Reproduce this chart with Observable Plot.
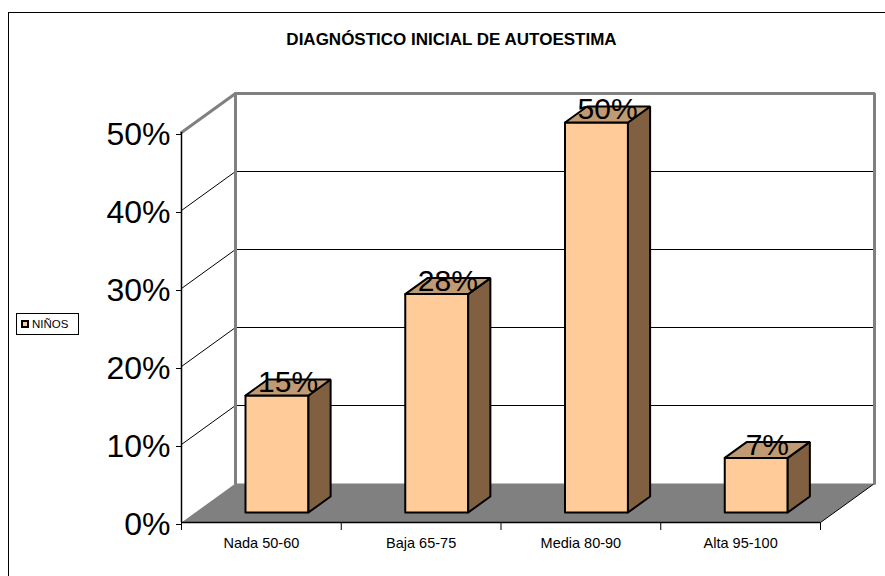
<!DOCTYPE html>
<html>
<head>
<meta charset="utf-8">
<script src="https://cdn.jsdelivr.net/npm/d3@7"></script>
<script src="https://cdn.jsdelivr.net/npm/@observablehq/plot@0.6"></script>
<style>
  html, body { margin: 0; padding: 0; background: #fff; overflow: hidden; }
  #wrap { position: relative; width: 885px; height: 576px; font-family: Arial, "Liberation Sans", sans-serif; }
  #border { position: absolute; left: 8px; top: 12px; width: 900px; height: 600px; border: 1px solid #000; box-sizing: border-box; }
  #title { position: absolute; left: 0; width: 903px; top: 31px; line-height: 17px; font-size: 17px; font-weight: bold; text-align: center; color: #000; }
  #legend { position: absolute; left: 16px; top: 313px; width: 63px; height: 22px; border: 1px solid #000; box-sizing: border-box; background: #fff; }
  #legend .sw { position: absolute; left: 4px; top: 6px; width: 4px; height: 4px; border: 2px solid #000; background: #FFCC99; }
  #legend .lb { position: absolute; left: 15px; top: 3px; font-size: 11.5px; line-height: 14px; }
  svg { position: absolute; left: 0; top: 0; }
</style>
</head>
<body>
<div id="wrap">
  <div id="border"></div>
  <div id="chart"></div>
  <div id="title"></div>
  <div id="legend"><div class="sw"></div><div class="lb"></div></div>
</div>
<script>
const title = "DIAGNÓSTICO INICIAL DE AUTOESTIMA";
const seriesName = "NIÑOS";
const categories = ["Nada 50-60", "Baja 65-75", "Media 80-90", "Alta 95-100"];
const values = [15, 28, 50, 7];
const yTicks = [0, 10, 20, 30, 40, 50];

document.getElementById("title").textContent = title;
document.querySelector("#legend .lb").textContent = seriesName;

// 3D depth (layout): full depth offset in data units
const DX = 0.338, DY = 5.0;
const n = categories.length;
const yMax = yTicks[yTicks.length - 1];
const proj = (x, y, z) => ({x: x + DX * z, y: y + DY * z});

// floor polygon
const floor = [[0,0,0],[n,0,0],[n,0,1],[0,0,1]].map(([x,y,z]) => ({...proj(x,y,z), id: "floor"}));
const floorEdge = [[n,0,0],[n,0,1]].map(([x,y,z]) => ({...proj(x,y,z), id: "fe"}));

// gridlines
const grid = [];
yTicks.slice(1, -1).forEach(t => {
  [[0,t,0],[0,t,1],[n,t,1]].forEach(([x,y,z]) => grid.push({...proj(x,y,z), id: "g" + t}));
});
const wallEdges = [];
[[0,yMax,0],[0,yMax,1],[n,yMax,1],[n,0,1]].forEach(([x,y,z]) => wallEdges.push({...proj(x,y,z), id: "top"}));
[[0,yMax,1],[0,0,1]].forEach(([x,y,z]) => wallEdges.push({...proj(x,y,z), id: "left"}));

// bars
const a = 0.314, w = 0.394, z0 = 0.2564, z1 = 0.667;
const fronts = [], sides = [], tops = [], labels = [];
values.forEach((v, i) => {
  const xl = i + a, xr = i + a + w;
  [[xl,0,z0],[xr,0,z0],[xr,v,z0],[xl,v,z0],[xl,0,z0]].forEach(([x,y,z]) => fronts.push({...proj(x,y,z), id: i}));
  [[xr,0,z0],[xr,v,z0],[xr,v,z1],[xr,0,z1],[xr,0,z0]].forEach(([x,y,z]) => sides.push({...proj(x,y,z), id: i}));
  [[xl,v,z0],[xr,v,z0],[xr,v,z1],[xl,v,z1],[xl,v,z0]].forEach(([x,y,z]) => tops.push({...proj(x,y,z), id: i}));
  labels.push({...proj(i + a + w / 2, v, (z0 + z1) / 2), text: v + "%"});
});

const chart = Plot.plot({
  width: 885,
  height: 576,
  marginLeft: 181,
  marginRight: 65,
  marginTop: 132,
  marginBottom: 54,
  style: {fontFamily: 'Arial, "Liberation Sans", sans-serif', background: "transparent", overflow: "visible"},
  x: {domain: [0, n]},
  y: {domain: [0, yMax]},
  marks: [
    Plot.line(floor, {x: "x", y: "y", z: "id", fill: "#808080", stroke: "none"}),
    Plot.line(floorEdge, {x: "x", y: "y", z: "id", stroke: "#000", strokeWidth: 1}),
    Plot.line(grid, {x: "x", y: "y", z: "id", stroke: "#000", strokeWidth: 1}),
    Plot.line(wallEdges, {x: "x", y: "y", z: "id", stroke: "#808080", strokeWidth: 3, strokeLinejoin: "miter"}),
    Plot.ruleX([0], {y1: 0, y2: yMax, stroke: "#000", strokeWidth: 1.5}),
    Plot.ruleY([0], {x1: 0, x2: n, stroke: "#000", strokeWidth: 1.5}),
    Plot.axisY({ticks: yTicks, tickFormat: d => d + "%", tickSize: 5, tickPadding: 6, fontSize: 32, label: null, stroke: "#000", color: "#000", textStroke: "none", dy: 2}),
    Plot.axisX({ticks: d3.range(n + 1), tickFormat: () => "", tickSize: 8, label: null}),
    Plot.axisX({ticks: d3.range(n).map(i => i + 0.5), tickFormat: d => categories[Math.floor(d)], tickSize: 0, tickPadding: 15, fontSize: 14.5, label: null, color: "#000"}),
    Plot.line(fronts, {x: "x", y: "y", z: "id", fill: "#FFCC99", stroke: "#000", strokeWidth: 2, strokeLinejoin: "miter"}),
    Plot.line(sides, {x: "x", y: "y", z: "id", fill: "#806040", stroke: "#000", strokeWidth: 2, strokeLinejoin: "miter"}),
    Plot.line(tops, {x: "x", y: "y", z: "id", fill: "#C09A72", stroke: "#000", strokeWidth: 2, strokeLinejoin: "miter"}),
    Plot.text(labels, {x: "x", y: "y", text: "text", fontSize: 30, lineAnchor: "bottom", dy: 5, fill: "#000"})
  ]
});
document.getElementById("chart").appendChild(chart);
</script>
</body>
</html>
